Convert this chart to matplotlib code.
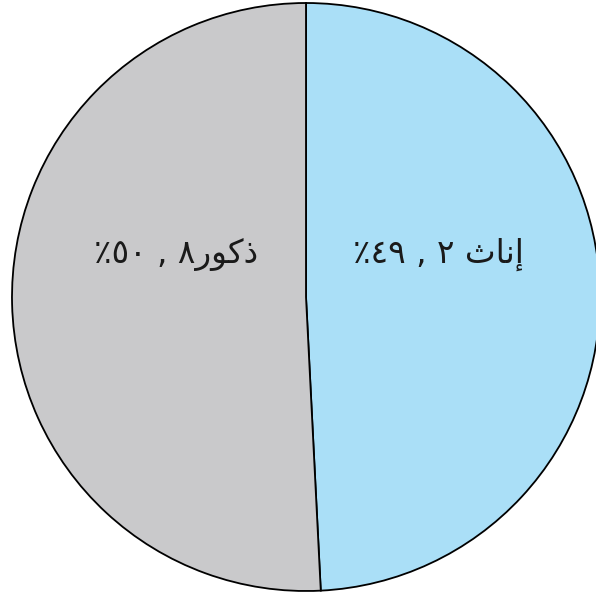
import matplotlib
matplotlib.use("Agg")
import matplotlib.pyplot as plt

# share of respondents by sex (percent)
categories = ["إناث", "ذكور"]
shares = [49.2, 50.8]
colors = ["#aadff7", "#c9c9cb"]

# labels in visual (left-to-right) order, letters in Arabic presentation forms
# since matplotlib does no bidi / shaping on its own
labels = [
    "\u066a\u0664\u0669 , \u0662 \ufe99\ufe8e\ufee7\ufe87",   # إناث ٢ ,٤٩٪
    "\u066a\u0665\u0660 , \u0668\ufead\ufeee\ufedb\ufeab",    # ذكور٨ ,٥٠٪
]
label_pos = [(438, 330), (176, 330)]

fig = plt.figure(figsize=(5.96, 5.93), dpi=100)
ax = fig.add_axes([0, 0, 1, 1])

ax.pie(shares, colors=colors, startangle=90, counterclock=False,
       center=(306, 296), radius=294, frame=True,
       wedgeprops=dict(edgecolor="black", linewidth=1.3))
ax.set_xlim(0, 596)
ax.set_ylim(0, 593)
ax.set_aspect("equal")
ax.axis("off")

for txt, (x, y) in zip(labels, label_pos):
    ax.text(x, y, txt, ha="center", va="baseline", fontsize=23.5,
            family=["DejaVu Sans"], color="#1a1a1a")

fig.savefig("out.png", dpi=100, facecolor="white")
